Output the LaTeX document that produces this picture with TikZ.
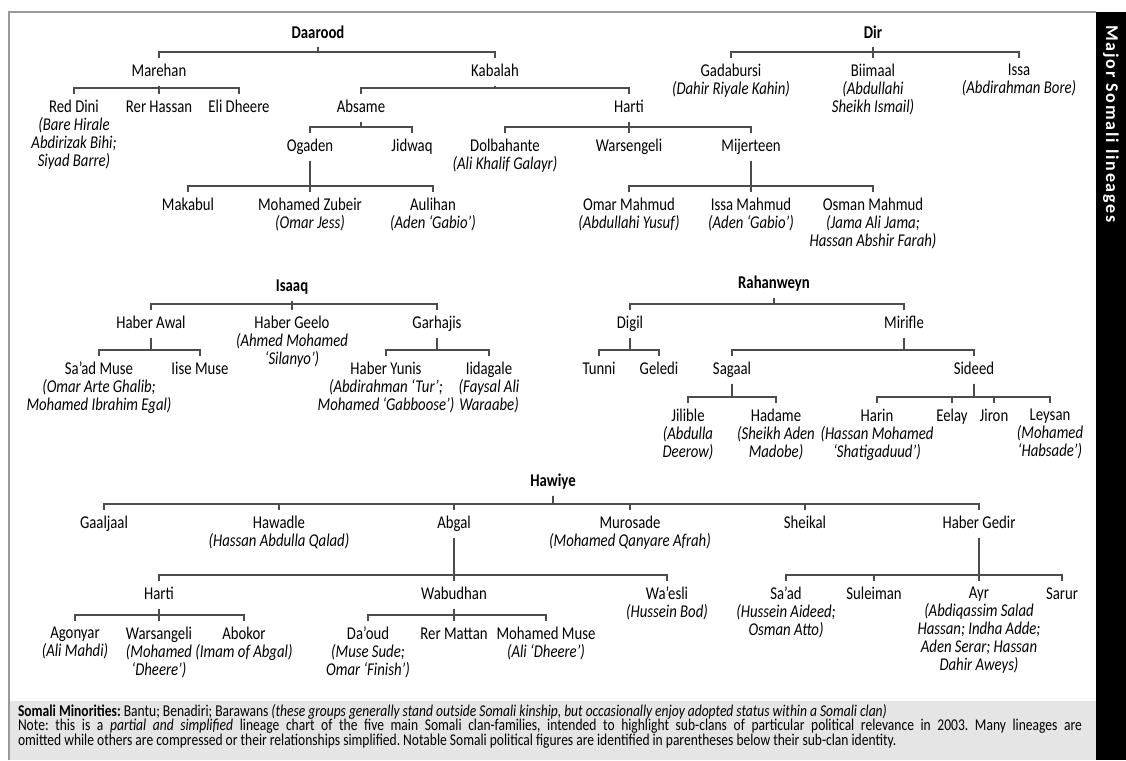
\documentclass[tikz,border=0pt]{standalone}
\usepackage{fontspec}
\setmainfont{Carlito}[FakeStretch=0.82]
\newfontfamily\barfont{Carlito}[LetterSpace=10]
\definecolor{linegray}{gray}{0.3}
\definecolor{framegray}{gray}{0.6}
\definecolor{panelgray}{gray}{0.9}
\newcommand{\pers}[1]{{\itshape #1}}
\tikzset{branch/.style={to path={(\tikztostart.south) |- ([yshift=6pt]\tikztotarget.north) -- (\tikztotarget.north)}}}

\begin{document}
\begin{tikzpicture}[x=1pt,y=-1pt]
\tikzstyle{every node}=[inner sep=1pt, outer sep=5pt, anchor=north, align=center, font=\fontsize{18}{18}\selectfont]
\tikzstyle{clan}=[text height=12pt, text depth=3.5pt]
\tikzstyle{root}=[clan, font=\fontsize{18}{18}\selectfont\bfseries]
\tikzstyle{link}=[linegray, line width=1.2pt]
\useasboundingbox (0,0) rectangle (1126,760);
\fill[panelgray] (10,701) rectangle (1096,760);
\draw[framegray, line width=2pt] (9,760) -- (9,12) -- (1096,12);
\fill[black] (1096,12) rectangle (1126,760);
\draw (1111,124) node (title) [rotate=-90, anchor=center, text=white, font=\barfont\bfseries\fontsize{18}{18}\selectfont] {Major Somali lineages};
% Daarood
\draw (318,20) node (daarood) [root] {Daarood};
\draw (159,58) node (marehan) [clan] {Marehan};
\draw (495,58) node (kabalah) [clan] {Kabalah};
\draw (74,94) node (reddini) {Red Dini\\\pers{(Bare Hirale}\\\pers{Abdirizak Bihi;}\\\pers{Siyad Barre)}};
\draw (159,94) node (rerhassan) [clan] {Rer Hassan};
\draw (239,94) node (elidheere) [clan] {Eli Dheere};
\draw (361,94) node (absame) [clan] {Absame};
\draw (629,94) node (harti) [clan] {Harti};
\draw (310,133) node (ogaden) [clan] {Ogaden};
\draw (412,133) node (jidwaq) [clan] {Jidwaq};
\draw (505,133) node (dolbahante) {Dolbahante\\\pers{(Ali Khalif Galayr)}};
\draw (629,133) node (warsengeli) [clan] {Warsengeli};
\draw (751,133) node (mijerteen) [clan] {Mijerteen};
\draw (188,192) node (makabul) [clan] {Makabul};
\draw (310,192) node (zubeir) {Mohamed Zubeir\\\pers{(Omar Jess)}};
\draw (433,192) node (aulihan) {Aulihan\\\pers{(Aden ‘Gabio’)}};
\draw (629,192) node (omarmahmud) {Omar Mahmud\\\pers{(Abdullahi Yusuf)}};
\draw (751,192) node (issamahmud) {Issa Mahmud\\\pers{(Aden ‘Gabio’)}};
\draw (873,192) node (osmanmahmud) {Osman Mahmud\\\pers{(Jama Ali Jama;}\\\pers{Hassan Abshir Farah)}};
\draw[link] (daarood) edge[branch] (marehan) edge[branch] (kabalah);
\draw[link] (marehan) edge[branch] (reddini) edge[branch] (rerhassan) edge[branch] (elidheere);
\draw[link] (kabalah) edge[branch] (absame) edge[branch] (harti);
\draw[link] (absame) edge[branch] (ogaden) edge[branch] (jidwaq);
\draw[link] (harti) edge[branch] (dolbahante) edge[branch] (warsengeli) edge[branch] (mijerteen);
\draw[link] (ogaden) edge[branch] (makabul) edge[branch] (zubeir) edge[branch] (aulihan);
\draw[link] (mijerteen) edge[branch] (omarmahmud) edge[branch] (issamahmud) edge[branch] (osmanmahmud);
% Dir
\draw (873,20) node (dir) [root] {Dir};
\draw (731,58) node (gadabursi) {Gadabursi\\\pers{(Dahir Riyale Kahin)}};
\draw (873,58) node (biimaal) {Biimaal\\\pers{(Abdullahi}\\\pers{Sheikh Ismail)}};
\draw (1019,58) node (issa) {Issa\\\pers{(Abdirahman Bore)}};
\draw[link] (dir) edge[branch] (gadabursi) edge[branch] (biimaal) edge[branch] (issa);
% Isaaq
\draw (292,273) node (isaaq) [root] {Isaaq};
\draw (151,310) node (haberawal) [clan] {Haber Awal};
\draw (292,310) node (habergeelo) {Haber Geelo\\\pers{(Ahmed Mohamed}\\\pers{‘Silanyo’)}};
\draw (437,310) node (garhajis) [clan] {Garhajis};
\draw (99,356) node (saadmuse) {Sa’ad Muse\\\pers{(Omar Arte Ghalib;}\\\pers{Mohamed Ibrahim Egal)}};
\draw (200,356) node (iisemuse) [clan] {Iise Muse};
\draw (386,356) node (haberyunis) {Haber Yunis\\\pers{(Abdirahman ‘Tur’;}\\\pers{Mohamed ‘Gabboose’)}};
\draw (489,356) node (iidagale) {Iidagale\\\pers{(Faysal Ali}\\\pers{Waraabe)}};
\draw[link] (isaaq) edge[branch] (haberawal) edge[branch] (habergeelo) edge[branch] (garhajis);
\draw[link] (haberawal) edge[branch] (saadmuse) edge[branch] (iisemuse);
\draw[link] (garhajis) edge[branch] (haberyunis) edge[branch] (iidagale);
% Rahanweyn
\draw (774,270) node (rahanweyn) [root] {Rahanweyn};
\draw (630,310) node (digil) [clan] {Digil};
\draw (904,310) node (mirifle) [clan] {Mirifle};
\draw (599,356) node (tunni) [clan] {Tunni};
\draw (659,356) node (geledi) [clan] {Geledi};
\draw (732,356) node (sagaal) [clan] {Sagaal};
\draw (974,356) node (sideed) [clan] {Sideed};
\draw (688,403) node (jilible) {Jilible\\\pers{(Abdulla}\\\pers{Deerow)}};
\draw (776,403) node (hadame) {Hadame\\\pers{(Sheikh Aden}\\\pers{Madobe)}};
\draw (877,403) node (harin) {Harin\\\pers{(Hassan Mohamed}\\\pers{‘Shatigaduud’)}};
\draw (952,403) node (eelay) [clan] {Eelay};
\draw (994,403) node (jiron) [clan] {Jiron};
\draw (1050,403) node (leysan) {Leysan\\\pers{(Mohamed}\\\pers{‘Habsade’)}};
\draw[link] (rahanweyn) edge[branch] (digil) edge[branch] (mirifle);
\draw[link] (digil) edge[branch] (tunni) edge[branch] (geledi);
\draw[link] (mirifle) edge[branch] (sagaal) edge[branch] (sideed);
\draw[link] (sagaal) edge[branch] (jilible) edge[branch] (hadame);
\draw[link] (sideed) edge[branch] (harin) edge[branch] (eelay) edge[branch] (jiron) edge[branch] (leysan);
% Hawiye
\draw (553,468) node (hawiye) [root] {Hawiye};
\draw (104,510) node (gaaljaal) [clan] {Gaaljaal};
\draw (279,510) node (hawadle) {Hawadle\\\pers{(Hassan Abdulla Qalad)}};
\draw (454,510) node (abgal) [clan] {Abgal};
\draw (630,510) node (murosade) {Murosade\\\pers{(Mohamed Qanyare Afrah)}};
\draw (805,510) node (sheikal) [clan] {Sheikal};
\draw (979,510) node (habergedir) [clan] {Haber Gedir};
\draw (159,581) node (hartiabgal) [clan] {Harti};
\draw (454,581) node (wabudhan) [clan] {Wabudhan};
\draw (667,581) node (waesli) {Wa’esli\\\pers{(Hussein Bod)}};
\draw (786,581) node (saad) {Sa’ad\\\pers{(Hussein Aideed;}\\\pers{Osman Atto)}};
\draw (874,581) node (suleiman) [clan] {Suleiman};
\draw (979,581) node (ayr) {Ayr\\\pers{(Abdiqassim Salad}\\\pers{Hassan; Indha Adde;}\\\pers{Aden Serar; Hassan}\\\pers{Dahir Aweys)}};
\draw (1062,581) node (sarur) [clan] {Sarur};
\draw (75,621) node (agonyar) {Agonyar\\\pers{(Ali Mahdi)}};
\draw (159,621) node (warsangeli) {Warsangeli\\\pers{(Mohamed}\\\pers{‘Dheere’)}};
\draw (244,621) node (abokor) {Abokor\\\pers{(Imam of Abgal)}};
\draw (368,621) node (daoud) {Da’oud\\\pers{(Muse Sude;}\\\pers{Omar ‘Finish’)}};
\draw (454,621) node (rermattan) [clan] {Rer Mattan};
\draw (546,621) node (mohamedmuse) {Mohamed Muse\\\pers{(Ali ‘Dheere’)}};
\draw[link] (hawiye) edge[branch] (gaaljaal) edge[branch] (hawadle) edge[branch] (abgal) edge[branch] (murosade) edge[branch] (sheikal) edge[branch] (habergedir);
\draw[link] (abgal) edge[branch] (hartiabgal) edge[branch] (wabudhan) edge[branch] (waesli);
\draw[link] (habergedir) edge[branch] (saad) edge[branch] (suleiman) edge[branch] (ayr) edge[branch] (sarur);
\draw[link] (hartiabgal) edge[branch] (agonyar) edge[branch] (warsangeli) edge[branch] (abokor);
\draw[link] (wabudhan) edge[branch] (daoud) edge[branch] (rermattan) edge[branch] (mohamedmuse);
% minorities and note
\draw (18,704) node (note) [anchor=north west, inner sep=0pt, outer sep=0pt, text width=1064pt, align=justify, font=\fontsize{16.5}{14.5}\selectfont\frenchspacing] {\textbf{Somali Minorities:}\ Bantu; Benadiri; Barawans \pers{(these groups generally stand outside Somali kinship, but occasionally enjoy adopted status within a Somali clan)}\\Note: this is a \pers{partial and simplified} lineage chart of the five main Somali clan-families, intended to highlight sub-clans of particular political relevance in 2003. Many lineages are\linebreak omitted while others are compressed or their relationships simplified. Notable Somali political figures are identified in parentheses below their sub-clan identity.};
\end{tikzpicture}
\end{document}
